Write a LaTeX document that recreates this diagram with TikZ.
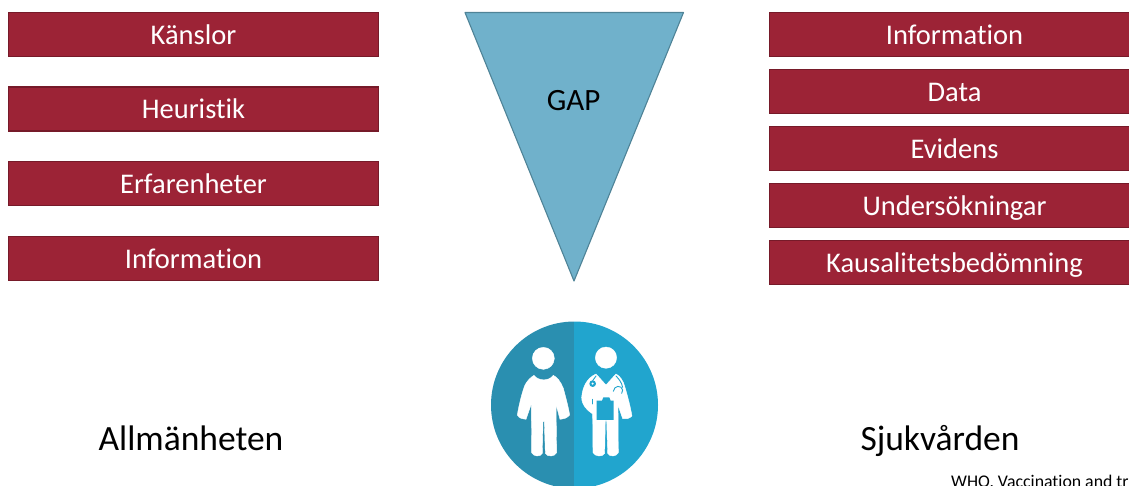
\documentclass[tikz,border=0pt]{standalone}
\usepackage{fontspec}
\setmainfont{Carlito}[Ligatures=NoCommon]
\definecolor{boxfill}{HTML}{9C2336}
\definecolor{boxline}{HTML}{761A29}
\definecolor{gapfill}{HTML}{70B1CB}
\definecolor{gapline}{HTML}{4F8397}
\definecolor{icondark}{HTML}{2A8FB0}
\definecolor{iconlight}{HTML}{21A5CE}
\tikzset{
  x=1pt,y=-1pt,
  redbox/.style={draw=boxline,line width=1.1pt,fill=boxfill,text=white,minimum width=370pt,minimum height=44pt,inner sep=0pt,text height=24pt,text depth=5pt,font=\fontsize{28.5}{34}\selectfont},
  biglabel/.style={inner sep=0pt,font=\fontsize{35.5}{42}\selectfont,anchor=base},
  figwhite/.style={fill=white,draw=white,line width=.4pt,line join=round},
  figblue/.style={draw=iconlight,line width=.9pt,line cap=round}
}
\begin{document}
\begin{tikzpicture}
\useasboundingbox (0,0) rectangle (1129,485);
\clip (0,0) rectangle (1129,485);
% left column
\node[redbox] (k) at (193.5,34.5) {Känslor};
\node[redbox] (h) at (193.5,109) {Heuristik};
\node[redbox] (e) at (193.5,183.5) {Erfarenheter};
\node[redbox] (il) at (193.5,258.5) {Information};
% right column
\node[redbox] (ir) at (954.5,34.5) {Information};
\node[redbox] (d) at (954.5,91.5) {Data};
\node[redbox] (ev) at (954.5,148.5) {Evidens};
\node[redbox] (u) at (954.5,205.5) {Undersökningar};
\node[redbox] (ka) at (954.5,262.5) {Kausalitetsbedömning};
% triangle
\draw[draw=gapline,line width=1.1pt,line join=round,fill=gapfill] (465,12.5) -- (683.5,12.5) -- (574,281) -- cycle;
\node[inner sep=0pt,font=\fontsize{31}{36}\selectfont,text=black] (gap) at (573.5,101) {GAP};
% labels
\node[biglabel] (all) at (191,450) {Allmänheten};
\node[biglabel] (sj) at (940,450) {Sjukvården};
\node[inner sep=0pt,anchor=base west,font=\fontsize{17.8}{20}\selectfont] (who) at (951,487.5) {WHO, Vaccination and tr};
% icon
\begin{scope}
  \clip (574.5,405) circle (83.5);
  \fill[icondark] (490,320) rectangle (574,490);
  \fill[iconlight] (574,320) rectangle (660,490);
\end{scope}
\begin{scope}[shift={(470,310)},x=.3333pt,y=-.3333pt]
  % patient
  \fill[figwhite] (220,145) circle (33);
  \fill[figwhite] (192,196) .. controls (203,212) and (235,216) .. (250,196)
    .. controls (262,202) and (272,215) .. (280,235)
    .. controls (288,265) and (296,295) .. (299,315)
    .. controls (290,325) and (280,328) .. (270,328)
    -- (258,282) -- (260,428)
    .. controls (255,440) and (232,442) .. (226,430)
    -- (223,335) -- (219,335) -- (217,430)
    .. controls (212,442) and (190,440) .. (185,428)
    -- (184,282) -- (168,328)
    .. controls (158,328) and (148,325) .. (142,315)
    .. controls (146,290) and (155,250) .. (165,225)
    .. controls (172,212) and (182,202) .. (192,196) -- cycle;
  % doctor
  \fill[figwhite] (408,143) circle (32);
  \fill[figwhite] (378,192) -- (408,225) -- (438,192)
    .. controls (450,198) and (460,212) .. (465,232)
    .. controls (474,262) and (482,295) .. (486,318)
    .. controls (478,326) and (468,328) .. (458,326)
    -- (444,285) -- (445,428)
    .. controls (440,440) and (418,442) .. (413,430)
    -- (410,332) -- (406,332) -- (404,430)
    .. controls (399,442) and (375,440) .. (369,428)
    -- (368,312)
    .. controls (350,300) and (335,285) .. (335,262)
    .. controls (338,230) and (350,205) .. (378,192) -- cycle;
  % clipboard
  \fill[iconlight] (380,272) -- (396,272) -- (400,262) -- (418,262) -- (422,272) -- (431,272) -- (431,330) -- (380,330) -- cycle;
  % stethoscope
  \draw[figblue] (378,198) -- (368,212);
  \fill[iconlight] (368,221) circle (10);
  \fill[white] (368,221) circle (3.5);
  \draw[figblue] (438,198) .. controls (448,208) and (455,218) .. (458,232);
  \draw[figblue] (430,244) .. controls (432,226) and (455,224) .. (458,240) -- (455,250);
  \draw[figblue] (366,268) -- (366,282);
\end{scope}
\end{tikzpicture}
\end{document}
